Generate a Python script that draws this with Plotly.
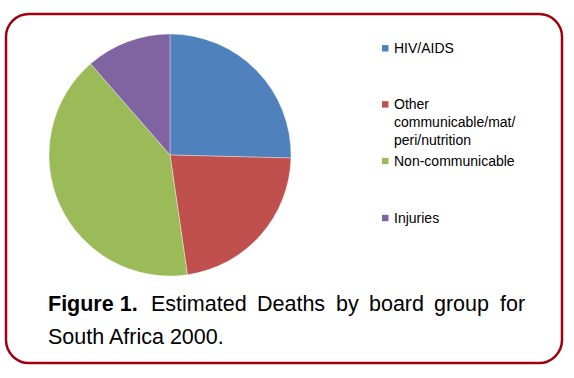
import plotly.graph_objects as go

# ---- data ----
categories = ["HIV/AIDS", "Other<br>communicable/mat/<br>peri/nutrition", "Non-communicable", "Injuries"]
shares = [25.4, 22.3, 40.9, 11.4]
colors = ["#4f81bd", "#c0504d", "#9bbb59", "#8064a2"]
caption_line1 = ["<b>Figure 1.</b>", "Estimated", "Deaths", "by", "board", "group", "for"]
caption_line2 = ["South Africa 2000."]

W, H = 574, 378
def X(px):
    return px / W
def Y(py):
    return 1 - py / H

fig = go.Figure()
fig.add_trace(go.Pie(
    labels=categories,
    values=shares,
    sort=False,
    direction="clockwise",
    rotation=0,
    textinfo="none",
    hoverinfo="label+percent",
    marker=dict(colors=colors, line=dict(width=0.6, color="rgba(255,255,255,0.6)")),
    domain=dict(x=[X(49), X(291)], y=[Y(276), Y(34)]),
    showlegend=False,
))

annotations = []
shapes = []

# legend (manual, to match spacing)
legend_y = [48.3, 104.4, 161.0, 218.0]
for lab, col, ly in zip(categories, colors, legend_y):
    n = lab.count("<br>")
    shapes.append(dict(type="rect", xref="paper", yref="paper",
                       x0=X(382), x1=X(388.5), y0=Y(ly - 3.2), y1=Y(ly + 3.2),
                       fillcolor=col, line=dict(width=0)))
    annotations.append(dict(text=lab, xref="paper", yref="paper",
                            x=X(391.5), y=Y(ly + n * 17.6 / 2),
                            xanchor="left", yanchor="middle", align="left",
                            showarrow=False,
                            font=dict(family="Liberation Sans, Arial", size=14, color="#000000")))

# caption (justified manually)
line1_x = [46.7, 150.0, 256.1, 334.7, 367.9, 433.4, 498.9]
for word, wx in zip(caption_line1, line1_x):
    annotations.append(dict(text=word, xref="paper", yref="paper",
                            x=X(wx - 1), y=Y(304), xanchor="left", yanchor="middle",
                            showarrow=False,
                            font=dict(family="Liberation Sans, Arial", size=21.5, color="#000000")))
for word in caption_line2:
    annotations.append(dict(text=word, xref="paper", yref="paper",
                            x=X(45.7), y=Y(336.5), xanchor="left", yanchor="middle",
                            showarrow=False,
                            font=dict(family="Liberation Sans, Arial", size=21.5, color="#000000")))

# rounded border
L, R, T, B, r = 6, 562, 14, 363, 23
k = 0.5523 * r
path = (
    f"M {X(L + r)},{Y(T)} L {X(R - r)},{Y(T)} "
    f"C {X(R - r + k)},{Y(T)} {X(R)},{Y(T + r - k)} {X(R)},{Y(T + r)} "
    f"L {X(R)},{Y(B - r)} "
    f"C {X(R)},{Y(B - r + k)} {X(R - r + k)},{Y(B)} {X(R - r)},{Y(B)} "
    f"L {X(L + r)},{Y(B)} "
    f"C {X(L + r - k)},{Y(B)} {X(L)},{Y(B - r + k)} {X(L)},{Y(B - r)} "
    f"L {X(L)},{Y(T + r)} "
    f"C {X(L)},{Y(T + r - k)} {X(L + r - k)},{Y(T)} {X(L + r)},{Y(T)} Z"
)
shapes.append(dict(type="path", xref="paper", yref="paper", path=path,
                   line=dict(color="#a0000f", width=2.5)))

fig.update_layout(
    width=W, height=H,
    margin=dict(l=0, r=0, t=0, b=0),
    paper_bgcolor="white", plot_bgcolor="white",
    annotations=annotations, shapes=shapes,
)
fig.write_html("out.html",
               config={"displayModeBar": False},
               post_script="document.body.style.margin='0';document.body.style.overflow='hidden';")
